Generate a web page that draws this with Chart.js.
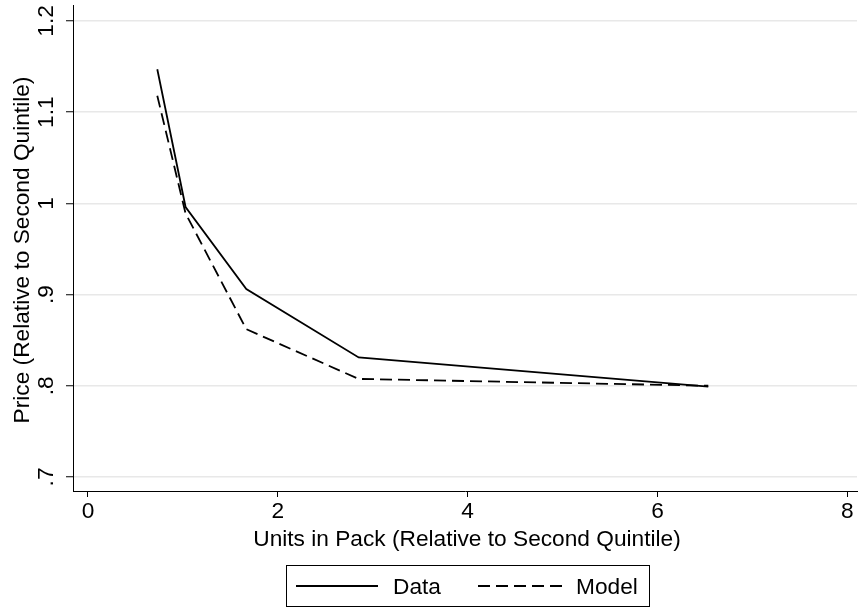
<!DOCTYPE html>
<html><head><meta charset="utf-8">
<script src="https://cdn.jsdelivr.net/npm/chart.js@4/dist/chart.umd.min.js"></script>
<style>html,body{margin:0;padding:0;background:#fff;}#wrap{width:858px;height:609px;}</style>
</head><body><div id="wrap"><canvas id="c" width="858" height="609"></canvas></div>
<script>
const unitsX = [0.730, 1.028, 1.668, 2.852, 6.535];
const priceData = [1.147, 0.996, 0.906, 0.831, 0.799];
const priceModel = [1.118, 0.989, 0.862, 0.8075, 0.800];
const xTicks = [0, 2, 4, 6, 8];
const yTicks = [0.7, 0.8, 0.9, 1.0, 1.1, 1.2];
const yTickLabels = ['.7', '.8', '.9', '1', '1.1', '1.2'];
const seriesNames = ['Data', 'Model'];
const xTitle = 'Units in Pack (Relative to Second Quintile)';
const yTitle = 'Price (Relative to Second Quintile)';

const FONT = '"Liberation Sans", Arial, sans-serif';
const FS = 22.7;

const textPlugin = {
  id: 'stataText',
  afterDraw(chart) {
    const ctx = chart.ctx, ys = chart.scales.y, ca = chart.chartArea;
    ctx.save();
    ctx.fillStyle = '#000';
    ctx.font = FS + 'px ' + FONT;
    yTicks.forEach((v, i) => {
      const py = ys.getPixelForValue(v);
      ctx.save();
      ctx.translate(ca.left - 19.7, py);
      ctx.rotate(-Math.PI / 2);
      ctx.textAlign = 'center';
      ctx.textBaseline = 'alphabetic';
      ctx.fillText(yTickLabels[i], 0, 0);
      ctx.restore();
    });
    ctx.save();
    ctx.translate(28.5, (ca.top + ca.bottom) / 2 + 2);
    ctx.rotate(-Math.PI / 2);
    ctx.textAlign = 'center';
    ctx.textBaseline = 'alphabetic';
    ctx.fillText(yTitle, 0, 0);
    ctx.restore();
    ctx.textAlign = 'center';
    ctx.textBaseline = 'alphabetic';
    ctx.fillText(xTitle, 467, ca.bottom + 55);
    const bx = 286.5, by = 565.5, bw = 363, bh = 41;
    ctx.strokeStyle = '#000';
    ctx.lineWidth = 1;
    ctx.strokeRect(bx, by, bw, bh);
    const ly = by + bh / 2;
    const ds = chart.data.datasets;
    ctx.lineWidth = ds[0].borderWidth;
    ctx.setLineDash([]);
    ctx.beginPath(); ctx.moveTo(296, ly); ctx.lineTo(378, ly); ctx.stroke();
    ctx.textAlign = 'left';
    ctx.fillText(seriesNames[0], 393, ly + 8);
    ctx.setLineDash(ds[1].borderDash);
    ctx.beginPath(); ctx.moveTo(478, ly); ctx.lineTo(562, ly); ctx.stroke();
    ctx.setLineDash([]);
    ctx.fillText(seriesNames[1], 576, ly + 8);
    ctx.restore();
  }
};

new Chart(document.getElementById('c').getContext('2d'), {
  type: 'scatter',
  data: {
    datasets: [
      { label: seriesNames[0], data: unitsX.map((x, i) => ({ x: x, y: priceData[i] })),
        showLine: true, borderColor: '#000', backgroundColor: '#000', borderWidth: 1.8,
        pointRadius: 0, fill: false, tension: 0 },
      { label: seriesNames[1], data: unitsX.map((x, i) => ({ x: x, y: priceModel[i] })),
        showLine: true, borderColor: '#000', backgroundColor: '#000', borderWidth: 1.8,
        borderDash: [12, 6], pointRadius: 0, fill: false, tension: 0 }
    ]
  },
  options: {
    responsive: false, animation: false, devicePixelRatio: 1,
    layout: { padding: { top: 5, right: 1, left: 0, bottom: 0 } },
    plugins: { legend: { display: false }, tooltip: { enabled: false } },
    scales: {
      x: {
        type: 'linear', min: -0.158, max: 8.102,
        afterBuildTicks: s => { s.ticks = xTicks.map(v => ({ value: v })); },
        ticks: { color: '#000', font: { family: FONT, size: FS }, padding: 1, maxRotation: 0,
                 callback: v => String(v) },
        grid: { drawOnChartArea: false, tickLength: 6, tickColor: '#000', tickWidth: 1 },
        border: { color: '#000', width: 1 },
        afterFit: s => { s.height = 118; }
      },
      y: {
        type: 'linear', min: 0.6846, max: 1.2175,
        afterBuildTicks: s => { s.ticks = yTicks.map(v => ({ value: v })); },
        ticks: { display: false },
        grid: { color: '#e8e8e8', lineWidth: 1.5, tickLength: 7, tickColor: '#000', tickWidth: 1 },
        border: { color: '#000', width: 1 },
        afterFit: s => { s.width = 73; }
      }
    }
  },
  plugins: [textPlugin]
});
</script>
</body></html>
